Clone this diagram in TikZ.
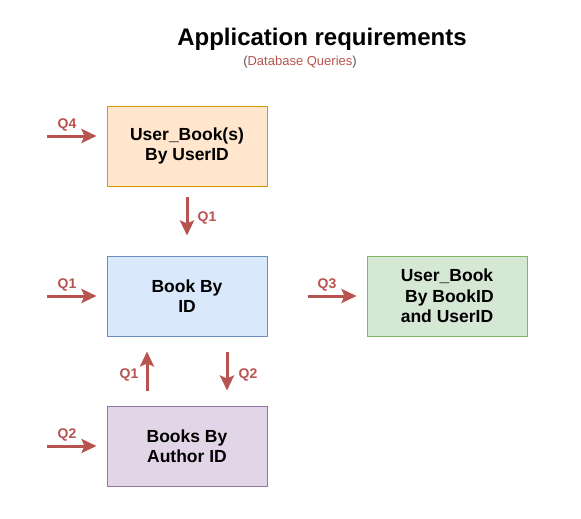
\documentclass[tikz,border=0pt]{standalone}
\usepackage{fontspec}
\setmainfont{Liberation Sans}
\usetikzlibrary{arrows.meta}
\definecolor{qred}{HTML}{B85450}
\definecolor{orfill}{HTML}{FFE6CC}\definecolor{ordraw}{HTML}{D79B00}
\definecolor{blfill}{HTML}{DAE8FC}\definecolor{bldraw}{HTML}{6C8EBF}
\definecolor{grfill}{HTML}{D5E8D4}\definecolor{grdraw}{HTML}{82B366}
\definecolor{pufill}{HTML}{E1D5E7}\definecolor{pudraw}{HTML}{9673A6}
\definecolor{pargray}{HTML}{555555}
\begin{document}
\begin{tikzpicture}[x=1pt,y=-1pt,
  box/.style={draw,line width=1pt,minimum width=160pt,minimum height=80pt,inner sep=0pt,align=center,
    font=\fontsize{17.5}{20.5}\selectfont\bfseries},
  qarrow/.style={draw=qred,line width=3pt,-{Stealth[length=15pt,width=14pt,inset=3pt]}},
  qlabel/.style={text=qred,font=\fontsize{14}{16}\selectfont\bfseries,inner sep=0pt}]
\useasboundingbox (0,0) rectangle (581,519);
\fill[white] (0,0) rectangle (581,519);
% title
\node[anchor=base,inner sep=0pt,font=\fontsize{24}{28}\selectfont\bfseries] (title) at (322,46) {Application requirements};
\node[anchor=base,inner sep=0pt,font=\fontsize{13}{15}\selectfont] (sub) at (300,65.5)
  {\textcolor{pargray}{(}\textcolor{qred}{Database Queries}\textcolor{pargray}{)}};
% boxes
\node[box,fill=orfill,draw=ordraw] (ub) at (187,146) {User\_Book(s)\\By UserID};
\node[box,fill=blfill,draw=bldraw] (bb) at (187,296) {Book By\\ID};
\node[box,fill=grfill,draw=grdraw] (gb) at (447,296) {User\_Book\\\ By BookID\\and UserID};
\node[box,fill=pufill,draw=pudraw] (pb) at (187,446) {Books By\\Author ID};
% free ends
\coordinate (q4s) at (47,136);
\coordinate (q1s) at (47,296);
\coordinate (q2s) at (47,446);
% arrows
\draw[qarrow,shorten >=10pt] (q4s) -- (q4s -| ub.west);
\draw[qarrow,shorten >=10pt] (q1s) -- (bb.west);
\draw[qarrow,shorten >=10pt] (q2s) -- (pb.west);
\draw[qarrow,shorten <=10pt,shorten >=20pt] (ub.south) -- (bb.north);
\draw[qarrow,shorten <=40pt,shorten >=10pt] (bb.east) -- (gb.west);
\draw[qarrow,shorten <=15pt,shorten >=15pt] ([xshift=-40pt]pb.north) -- ([xshift=-40pt]bb.south);
\draw[qarrow,shorten <=15pt,shorten >=15pt] ([xshift=40pt]bb.south) -- ([xshift=40pt]pb.north);
% labels
\node[qlabel] (l4) at (67,125) {Q4};
\node[qlabel] (l1a) at (207,218) {Q1};
\node[qlabel] (l1b) at (67,285) {Q1};
\node[qlabel] (l3) at (327,285) {Q3};
\node[qlabel] (l1c) at (129,375) {Q1};
\node[qlabel] (l2a) at (248,375) {Q2};
\node[qlabel] (l2b) at (67,435) {Q2};
\end{tikzpicture}
\end{document}
